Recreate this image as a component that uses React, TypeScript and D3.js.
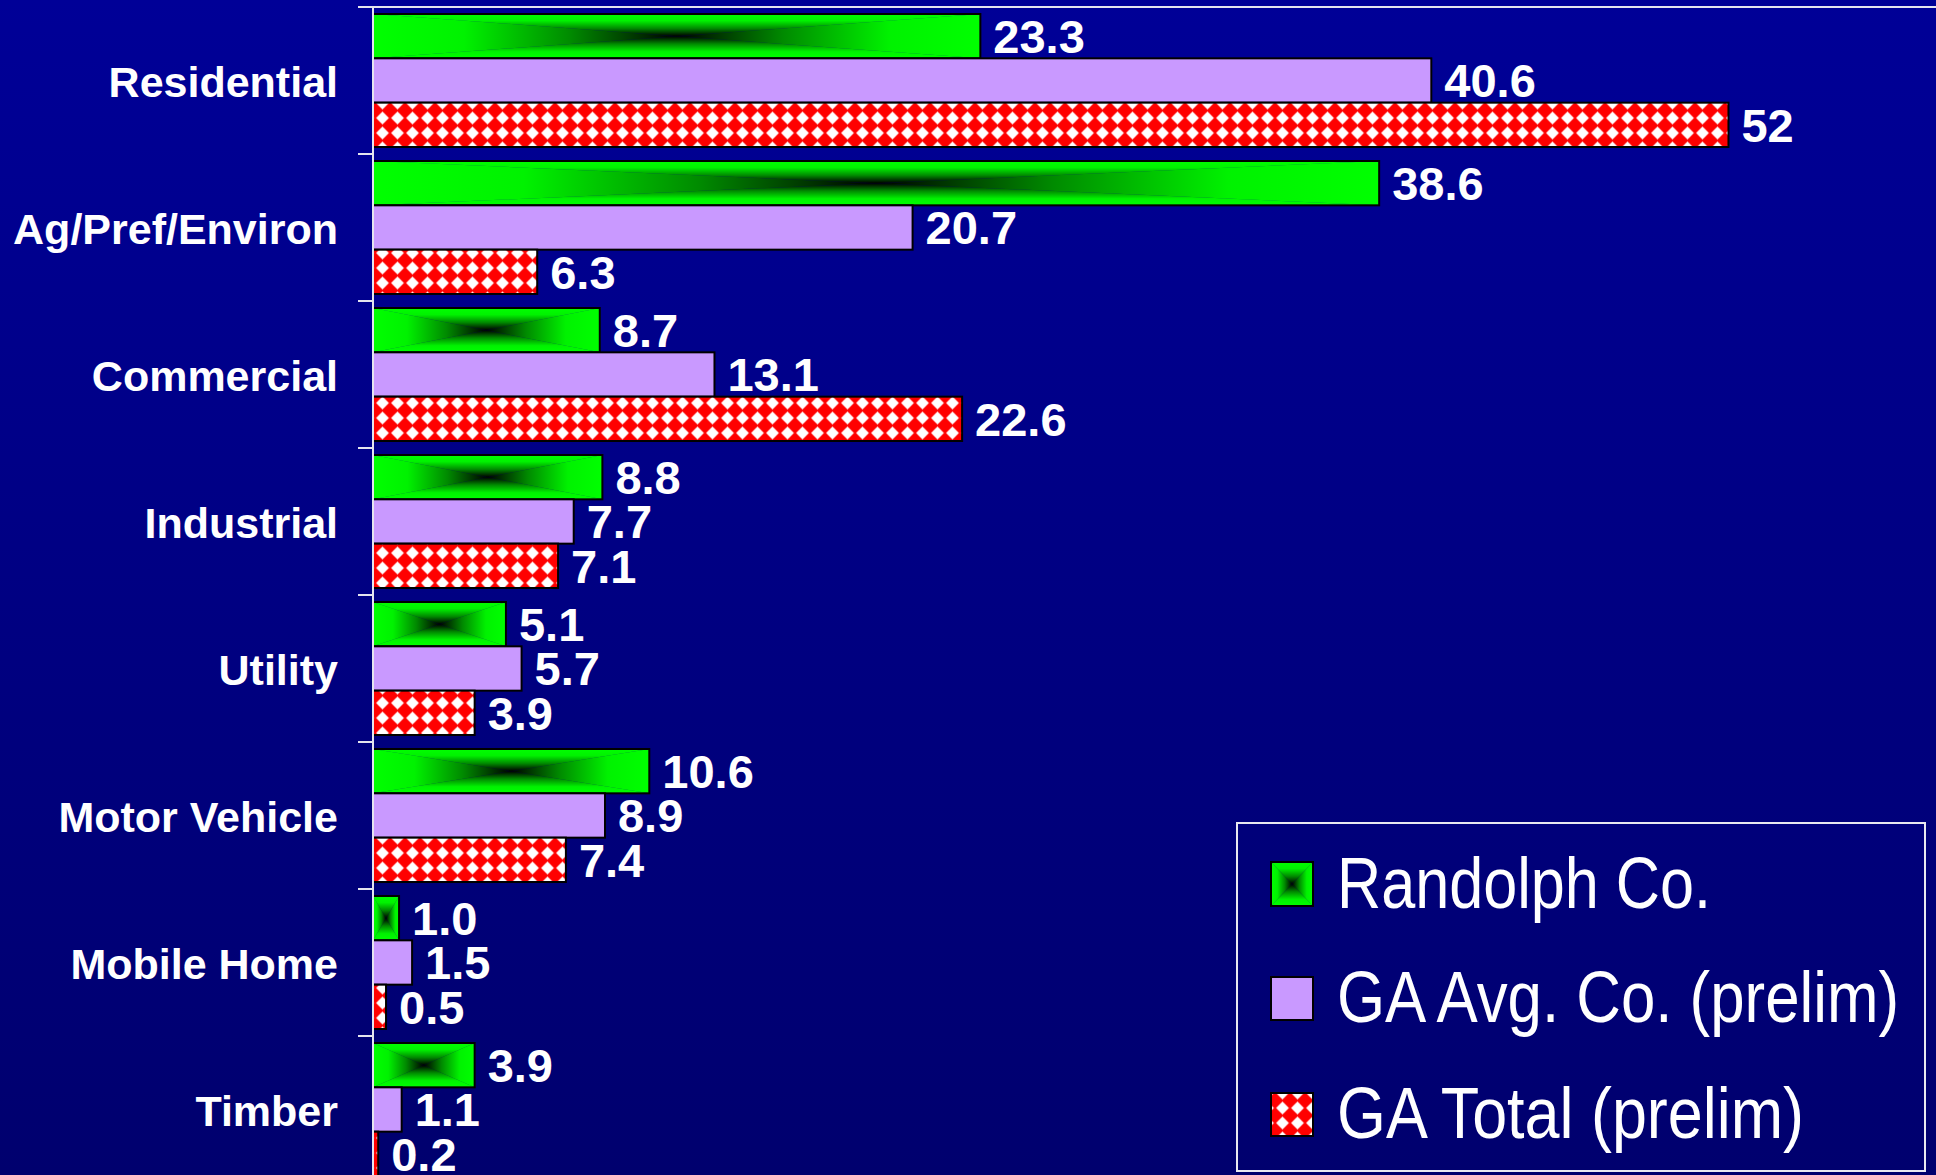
import React from "react";
import * as d3 from "d3";

const categories = ["Residential", "Ag/Pref/Environ", "Commercial", "Industrial", "Utility", "Motor Vehicle", "Mobile Home", "Timber"];
const seriesNames = ["Randolph Co.", "GA Avg. Co. (prelim)", "GA Total (prelim)"];
const randolph = [23.3, 38.6, 8.7, 8.8, 5.1, 10.6, 1.0, 3.9];
const gaAvg = [40.6, 20.7, 13.1, 7.7, 5.7, 8.9, 1.5, 1.1];
const gaTotal = [52, 6.3, 22.6, 7.1, 3.9, 7.4, 0.5, 0.2];
const randolphLabels = ["23.3", "38.6", "8.7", "8.8", "5.1", "10.6", "1.0", "3.9"];
const gaAvgLabels = ["40.6", "20.7", "13.1", "7.7", "5.7", "8.9", "1.5", "1.1"];
const gaTotalLabels = ["52", "6.3", "22.6", "7.1", "3.9", "7.4", "0.5", "0.2"];
const xDomain = [0, 60];

const W = 1936;
const H = 1175;
const AXIS_X = 373;
const TOP = 7;
const BAND = 147;

const FONT = "'Liberation Sans', Arial, Helvetica, sans-serif";

function GreenBox({ x, y, w, h }: { x: number; y: number; w: number; h: number }) {
  const cx = x + w / 2;
  const cy = y + h / 2;
  const x1 = x + w;
  const y1 = y + h;
  return (
    <g>
      <polygon points={`${x},${y} ${cx},${cy} ${x},${y1}`} fill="url(#gL)" stroke="url(#gL)" strokeWidth={0.5} />
      <polygon points={`${x1},${y} ${cx},${cy} ${x1},${y1}`} fill="url(#gR)" stroke="url(#gR)" strokeWidth={0.5} />
      <polygon points={`${x},${y} ${cx},${cy} ${x1},${y}`} fill="url(#gT)" />
      <polygon points={`${x},${y1} ${cx},${cy} ${x1},${y1}`} fill="url(#gB)" />
      <rect x={x} y={y} width={w} height={h} fill="none" stroke="#000" strokeWidth={2} />
    </g>
  );
}

const stops = (
  <>
    <stop offset="0" stopColor="#00ff00" />
    <stop offset="0.3" stopColor="#00f200" />
    <stop offset="0.65" stopColor="#008a00" />
    <stop offset="1" stopColor="#000000" />
  </>
);

export default function App() {
  const x = d3.scaleLinear().domain(xDomain).range([AXIS_X, AXIS_X + 1564]);
  const y = d3.scaleBand<string>().domain(categories).range([TOP, TOP + BAND * categories.length]).padding(0);
  const inner = d3.scaleBand<string>().domain(seriesNames).range([7, BAND - 7]).padding(0);
  const bh = inner.bandwidth();

  const series = [
    { name: seriesNames[0], values: randolph, labels: randolphLabels },
    { name: seriesNames[1], values: gaAvg, labels: gaAvgLabels },
    { name: seriesNames[2], values: gaTotal, labels: gaTotalLabels },
  ];

  const boundaries = d3.range(categories.length + 1).map((i) => TOP + i * y.step());

  const legendRows = [
    { name: seriesNames[0], sy: 862, sh: 44, base: 908, len: 374 },
    { name: seriesNames[1], sy: 977, sh: 43, base: 1022, len: 562 },
    { name: seriesNames[2], sy: 1093, sh: 43, base: 1138, len: 467 },
  ];

  return (
    <svg width={W} height={H} style={{ position: "absolute", left: 0, top: 0, display: "block" }}>
      <defs>
        <linearGradient id="bg" x1="0" y1="0" x2="0" y2="1">
          <stop offset="0" stopColor="#000097" />
          <stop offset="1" stopColor="#00006e" />
        </linearGradient>
        <linearGradient id="gL" x1="0" y1="0" x2="1" y2="0">{stops}</linearGradient>
        <linearGradient id="gR" x1="1" y1="0" x2="0" y2="0">{stops}</linearGradient>
        <linearGradient id="gT" x1="0" y1="0" x2="0" y2="1">{stops}</linearGradient>
        <linearGradient id="gB" x1="0" y1="1" x2="0" y2="0">{stops}</linearGradient>
        <pattern id="redPat" patternUnits="userSpaceOnUse" x={0} y={5.5} width={15} height={15}>
          <rect width={15} height={15} fill="#ff0000" />
          <polygon points="7.5,1.3 13.7,7.5 7.5,13.7 1.3,7.5" fill="#ffffff" stroke="#ffffff" strokeWidth={0.6} strokeLinejoin="round" />
        </pattern>
      </defs>
      <rect width={W} height={H} fill="url(#bg)" />

      {/* bars */}
      {categories.map((c, ci) => {
        const y0 = y(c)!;
        return (
          <g key={c}>
            {series.map((s, si) => {
              const by = y0 + inner(s.name)!;
              const bw = x(s.values[ci]) - x(0);
              const end = x(s.values[ci]);
              let bar;
              if (si === 0) bar = <GreenBox x={x(0)} y={by} w={bw} h={bh} />;
              else
                bar = (
                  <rect x={x(0)} y={by} width={bw} height={bh} fill={si === 1 ? "#c999ff" : "url(#redPat)"} stroke="#000" strokeWidth={2} />
                );
              return (
                <g key={s.name}>
                  {bar}
                  <text x={end + 13} y={by + bh / 2 + 16.8} fill="#fff" fontFamily={FONT} fontWeight="bold" fontSize={47}>
                    {s.labels[ci]}
                  </text>
                </g>
              );
            })}
            <text x={338} y={y0 + y.bandwidth() / 2 + 16} textAnchor="end" fill="#fff" fontFamily={FONT} fontWeight="bold" fontSize={43}>
              {c}
            </text>
          </g>
        );
      })}

      {/* axis */}
      <line x1={358} x2={W} y1={TOP} y2={TOP} stroke="#e4e4ee" strokeWidth={2} />
      <line x1={AXIS_X} x2={AXIS_X} y1={TOP} y2={H + 20} stroke="#e4e4ee" strokeWidth={2} />
      {boundaries.map((b, i) => (
        <line key={i} x1={358} x2={AXIS_X} y1={b} y2={b} stroke="#e4e4ee" strokeWidth={2} />
      ))}

      {/* legend */}
      <rect x={1237} y={823} width={688} height={348} fill="none" stroke="#e8e8f0" strokeWidth={2} />
      {legendRows.map((r, i) => (
        <g key={r.name}>
          {i === 0 ? (
            <GreenBox x={1271} y={r.sy} w={42} h={r.sh} />
          ) : (
            <rect x={1271} y={r.sy} width={42} height={r.sh} fill={i === 1 ? "#c999ff" : "url(#redPat)"} stroke="#000" strokeWidth={2} />
          )}
          <text x={1337} y={r.base} fill="#fff" fontFamily={FONT} fontSize={72} textLength={r.len} lengthAdjust="spacingAndGlyphs">
            {r.name}
          </text>
        </g>
      ))}
    </svg>
  );
}
